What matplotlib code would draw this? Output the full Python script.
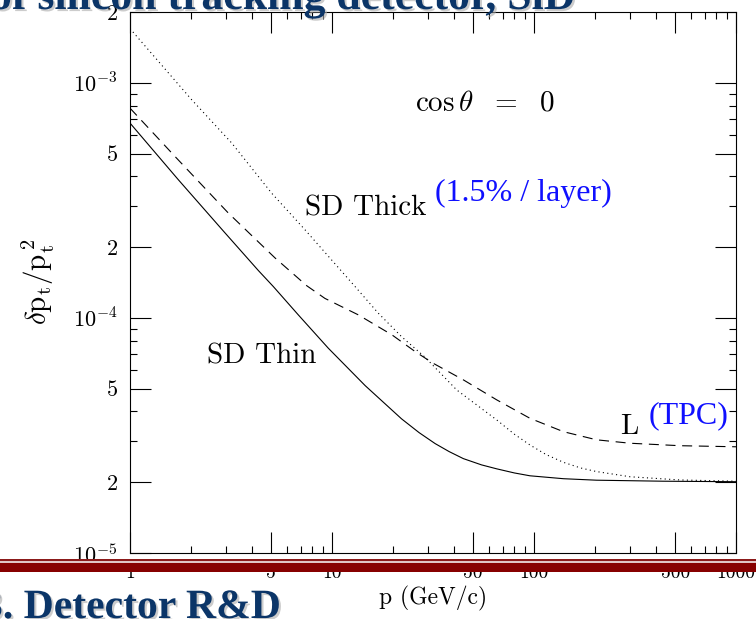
import matplotlib
matplotlib.use("Agg")
import matplotlib.pyplot as plt
import matplotlib.patheffects as pe
from matplotlib.patches import Rectangle

# curves (p in GeV/c, dpt/pt^2)
p_thin = [1, 1.73, 2.9, 4.32, 5.12, 6.81, 9.59, 14.6, 22.1, 27, 32.4, 38, 44.7, 55, 65.4, 80, 95.5,
          140, 204, 435, 1000]
sd_thin = [6.74e-4, 3.88e-4, 2.34e-4, 1.59e-4, 1.36e-4, 1.03e-4, 7.43e-5, 5.15e-5, 3.72e-5, 3.25e-5,
           2.92e-5, 2.7e-5, 2.52e-5, 2.37e-5, 2.28e-5, 2.19e-5, 2.13e-5,
           2.07e-5, 2.04e-5, 2.02e-5, 2.01e-5]

p_tpc = [1, 1.67, 3.07, 5.22, 7.5, 9.23, 13.5, 19.8, 25.8, 31.7, 44.7, 65.4, 95.5, 140, 204, 299, 528, 1000]
tpc = [7.8e-4, 4.86e-4, 2.79e-4, 1.80e-4, 1.37e-4, 1.21e-4, 1.03e-4, 8.47e-5, 7.19e-5, 6.41e-5,
       5.45e-5, 4.48e-5, 3.74e-5, 3.28e-5, 3.03e-5, 2.93e-5, 2.86e-5, 2.83e-5]

p_thick = [1, 2.02, 3.19, 5.03, 7.35, 13.0, 16.9, 22.1, 28.9, 41.4, 65.4, 80, 95.5, 115, 140, 170,
           204, 299, 528, 1000]
sd_thick = [1.70e-3, 8.47e-4, 5.54e-4, 3.39e-4, 2.37e-4, 1.36e-4, 1.05e-4, 8.32e-5, 6.8e-5,
            4.94e-5, 3.68e-5, 3.2e-5, 2.88e-5, 2.62e-5, 2.43e-5, 2.3e-5,
            2.22e-5, 2.11e-5, 2.045e-5, 2.02e-5]

x_major = [1, 5, 10, 50, 100, 500, 1000]
x_labels = ["1", "5", "10", "50", "100", "500", "1000"]
x_minor = [2, 3, 4, 6, 7, 8, 9, 20, 30, 40, 60, 70, 80, 90, 200, 300, 400, 600, 700, 800, 900]

y_major = [1e-5, 2e-5, 5e-5, 1e-4, 2e-4, 5e-4, 1e-3, 2e-3]
y_labels = [r"$10^{-5}$", "2", "5", r"$10^{-4}$", "2", "5", r"$10^{-3}$", "2"]
y_minor = [3e-5, 4e-5, 6e-5, 7e-5, 8e-5, 9e-5, 3e-4, 4e-4, 6e-4, 7e-4, 8e-4, 9e-4]

W, H = 756, 619

plt.rcParams['mathtext.fontset'] = 'cm'
plt.rcParams['font.family'] = ['cmr10', 'DejaVu Serif']
plt.rcParams['axes.unicode_minus'] = False


def fx(px):
	return px / W


def fy(py):
	return 1 - py / H


fig = plt.figure(figsize=(W / 100, H / 100), dpi=100)
ax = fig.add_axes([fx(130), fy(553), fx(736) - fx(130), fy(12) - fy(553)])

ax.plot(p_thin, sd_thin, color="black", lw=0.8)
ax.plot(p_tpc, tpc, color="black", lw=0.8, linestyle=(0, (9, 6)))
ax.plot(p_thick, sd_thick, color="black", lw=0.8, linestyle=(0, (1, 3)))

ax.set_xscale("log")
ax.set_yscale("log")
ax.set_xlim(1, 1000)
ax.set_ylim(1e-5, 2e-3)

ax.set_xticks(x_major)
ax.set_xticklabels(x_labels)
ax.set_xticks(x_minor, minor=True)
ax.set_xticklabels([], minor=True)
ax.set_yticks(y_major)
ax.set_yticklabels(y_labels)
ax.set_yticks(y_minor, minor=True)
ax.set_yticklabels([], minor=True)

ax.tick_params(which="both", direction="in", top=True, right=True, width=0.8, color="black")
ax.tick_params(which="major", length=15)
ax.tick_params(which="minor", length=5)
ax.tick_params(axis="x", which="major", pad=8, labelsize=14)
ax.tick_params(axis="y", which="major", pad=9, labelsize=16)
for s in ax.spines.values():
	s.set_linewidth(0.8)

# annotations
fig.text(fx(485), fy(103), r"$\cos\theta\ \ =\ \ 0$", fontsize=21, ha="center", va="center")
fig.text(fx(366), fy(208), "SD Thick", fontsize=21, ha="center", va="center")
fig.text(fx(523), fy(193), "(1.5% / layer)", fontsize=23, ha="center", va="center",
		 color="#1010ff", family="Liberation Serif")
fig.text(fx(262), fy(356), "SD Thin", fontsize=21, ha="center", va="center")
fig.text(fx(629), fy(427), "L", fontsize=21, ha="center", va="center")
fig.text(fx(689), fy(416), "(TPC)", fontsize=23, ha="center", va="center",
		 color="#1010ff", family="Liberation Serif")

fig.text(fx(38), fy(282), r"$\delta\mathrm{p_t/p_t^{\,2}}$", fontsize=21, rotation=90,
		 ha="center", va="center")
fig.text(fx(433), fy(598), "p (GeV/c)", fontsize=17, ha="center", va="center")

# slide decorations around the chart
fig.add_artist(Rectangle((0, fy(561)), 1, fy(558.5) - fy(561), transform=fig.transFigure,
						 color="#8b1a1a", lw=0, zorder=5))
fig.add_artist(Rectangle((0, fy(563)), 1, fy(561) - fy(563), transform=fig.transFigure,
						 color="#e0c4c4", lw=0, zorder=5))
fig.add_artist(Rectangle((0, fy(572)), 1, fy(563) - fy(572), transform=fig.transFigure,
						 color="#870000", lw=0, zorder=5))

shadow = [pe.withSimplePatchShadow(offset=(1.5, -1.5), shadow_rgbFace="#aaaaaa", alpha=0.6)]
fig.text(fx(-18), fy(618), "3. Detector R&D", fontsize=30, fontweight="bold",
		 family="Liberation Serif", color="#0b3568", ha="left", va="baseline",
		 path_effects=shadow)
fig.text(fx(-10), fy(9), "of silicon tracking detector, SiD", fontsize=31.5, fontweight="bold",
		 family="Liberation Serif", color="#0b3568", ha="left", va="baseline",
		 path_effects=shadow)

fig.savefig("out.png", dpi=100)
